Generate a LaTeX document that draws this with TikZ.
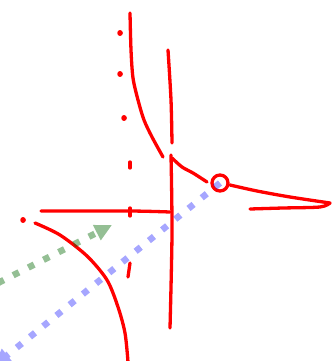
\documentclass[tikz,border=0pt]{standalone}
\usetikzlibrary{arrows.meta}
\tikzset{
  x=1pt,y=-1pt,
  sk/.style={draw=red,line width=3.3pt,line cap=round,line join=round},
  skdot/.style={draw=red,line width=5.5pt,line cap=round},
  ray/.style={line width=6.5pt,dash pattern=on 6.5pt off 10.5pt},
  gryray/.style={ray,draw=green!40!black,
    -{Triangle[length=17pt,width=16pt,fill=green!40!black]}},
  bray/.style={ray,draw=blue,
    -{Triangle[length=17pt,width=16pt,fill=blue]}},
  ring/.style={circle,draw=red,line width=3.3pt,minimum size=16pt,inner sep=0pt},
}

\begin{document}
\begin{tikzpicture}
  \useasboundingbox (0,0) rectangle (335,361);
  \clip (0,0) rectangle (335,361);
  % upper branch
  \draw[sk] plot[smooth] coordinates {(130,13) (131,50) (133,78) (138,100)
    (144,120) (152,137) (163,157)};
  % lower branch
  \draw[sk] plot[smooth] coordinates {(35,223) (60,235) (87,256) (107,280)
    (118,307) (125,333) (128,362)};
  % axes
  \draw[sk] plot[smooth] coordinates {(168,50) (171,100) (172,143)};
  \draw[sk] plot[smooth] coordinates {(171,155) (172,233) (170,328)};
  \draw[sk] plot[smooth] coordinates {(41,211) (130,211) (170,212)};
  % dotted guide
  \foreach \p in {(120,33),(120,74),(124,118),(23,220)}
    \draw[skdot] \p -- ++(0.1,0);
  \draw[sk] (130,162) -- (130,168);
  \draw[sk] (130,208) -- (130,216);
  \draw[sk] (130,263) -- (128,277);
  % point and right curve
  \node[ring] (pt) at (220,183) {};
  \draw[sk] plot[smooth] coordinates {(172,158) (182,167) (193,173) (207,182)};
  \draw[sk] plot[smooth] coordinates {(230,185) (257,191) (290,197) (330,203)};
  \draw[sk] plot[smooth] coordinates {(330,203) (320,207) (283,208) (250,209)};
  % rays
  \coordinate (gs) at (-2,283);
  \coordinate (ge) at (112,225);
  \coordinate (be) at (-6,366);
  \begin{scope}[transparency group,opacity=0.42]
    \draw[gryray] (gs) -- (ge);
  \end{scope}
  \begin{scope}[transparency group,opacity=0.35]
    \draw[bray] (pt.center) -- (be);
  \end{scope}
\end{tikzpicture}
\end{document}
